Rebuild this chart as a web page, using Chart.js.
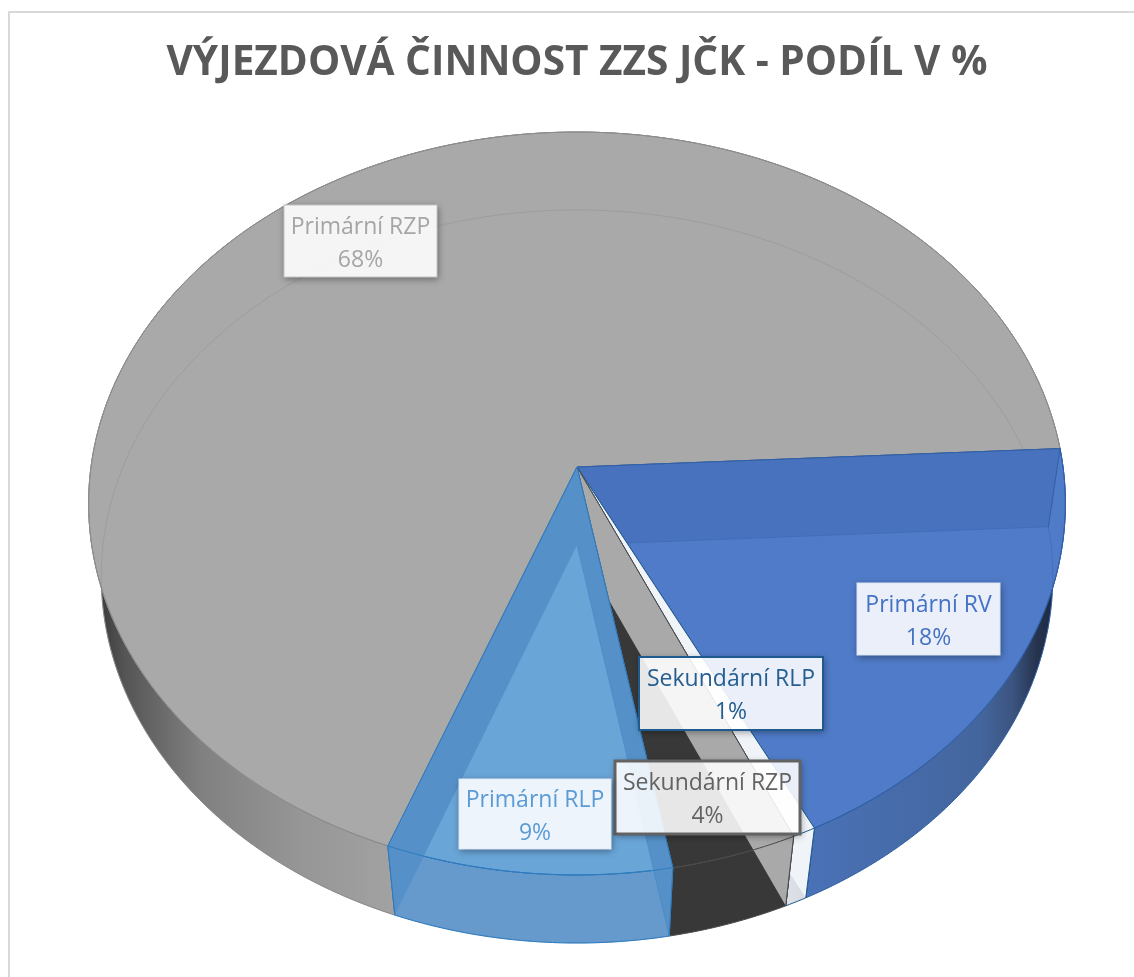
<!DOCTYPE html>
<html lang="cs">
<head>
<meta charset="utf-8">
<title>Výjezdová činnost ZZS JČK</title>
<script src="https://cdn.jsdelivr.net/npm/chart.js@4"></script>
<style>
    html, body { margin: 0; background: #fff; overflow: hidden; }
    #frame { position: absolute; left: 8px; top: 11px; right: 0; bottom: 0; border-left: 2px solid #d9d9d9; border-top: 2px solid #d9d9d9; }
    #pie { position: absolute; left: 0; top: 0; }
</style>
</head>
<body>
<div id="frame"></div>
<canvas id="pie" width="1134" height="977"></canvas>
<script>
// Data
const categories = ["Primární RZP", "Primární RV", "Sekundární RLP", "Sekundární RZP", "Primární RLP"];
const shares = [68.45, 18.45, 0.7, 3.8, 8.6];
const chartTitle = "VÝJEZDOVÁ ČINNOST ZZS JČK - PODÍL V %";
const firstSliceAngle = 200.7;

// Perspective of the two disks of the 3D pie
const topDisk = { cx: 577, cy: 467, a: 322, c: -0.0982, r: 486 };
const bottomDisk = { cx: 577, cy: 545, a: 317, c: -0.0859, r: 474 };

// Slice look, same order as categories
const faceColors = ["#a9a9a9", "#507bc8", "#e9edf4", "#383838", "#6aa5d8"];
const edgeColors = ["#8c8c8c", "#2f5fa5", "#1f5a8f", "#4a4a4a", "#2e7abd"];
const startWallColors = ["rgba(0,0,0,0)", "#4872bd", "#f0f3f8", "#a9a9a9", "#5591c8"];
const endWallColors = ["rgba(0,0,0,0)", "rgba(0,0,0,0)", "rgba(0,0,0,0)", "rgba(0,0,0,0)", "#5591c8"];
const wallStops = [
    [[88, "#303030"], [125, "#555555"], [200, "#808080"], [300, "#969696"], [395, "#a2a2a2"]],
    [[800, "#4a72b8"], [980, "#44669e"], [1013, "#3c5480"], [1036, "#26344f"], [1062, "#1a2438"]],
    [[780, "#dfe2e8"], [815, "#d5d9e0"]],
    [[660, "#383838"], [800, "#383838"]],
    [[380, "#6699cc"], [680, "#6699cc"]]
];

// Label boxes: left, top, right, bottom
const labelBoxes = [
    [284, 205, 437, 277],
    [857, 583, 1000, 655],
    [639, 657, 823, 730],
    [615, 761, 800, 834],
    [459, 779, 611, 849]
];
const labelColors = ["#a5a5a5", "#4472c4", "#255e91", "#636363", "#5b9bd5"];
const labelBorders = ["#c4c4c4", "#dce4f4", "#1f5a8f", "#636363", "#dfeaf6"];
const labelBorderWidths = [1, 1, 2, 3, 1];

function project(disk, angle) {
    const u = Math.cos(angle), v = Math.sin(angle);
    const w = 1 + disk.c * v;
    return [disk.cx + disk.r * u / w, (disk.a * v + disk.cy) / w];
}

function arcPoints(disk, from, to) {
    const steps = Math.max(2, Math.ceil(Math.abs(to - from) / 0.01));
    const pts = [];
    for (let i = 0; i <= steps; i++) pts.push(project(disk, from + (to - from) * i / steps));
    return pts;
}

function tracePath(ctx, pts, close) {
    ctx.beginPath();
    pts.forEach((p, i) => i ? ctx.lineTo(p[0], p[1]) : ctx.moveTo(p[0], p[1]));
    if (close) ctx.closePath();
}

function drawPoly(ctx, pts, fill, stroke) {
    tracePath(ctx, pts, true);
    ctx.fillStyle = fill;
    ctx.fill();
    if (stroke) {
        ctx.strokeStyle = stroke;
        ctx.stroke();
    }
}

function radialWall(angle) {
    return [[topDisk.cx, topDisk.cy], project(topDisk, angle), project(bottomDisk, angle), [bottomDisk.cx, bottomDisk.cy]];
}

// Draws the arcs Chart.js laid out, as extruded slices in perspective
const pie3d = {
    id: "pie3d",
    beforeDatasetDraw(chart, args) {
        const ctx = chart.ctx;
        ctx.save();
        ctx.lineWidth = 1;
        ctx.lineJoin = "round";
        args.meta.data.forEach((arc, i) => {
            const from = arc.startAngle, to = arc.endAngle;
            const topRim = arcPoints(topDisk, from, to);
            const bottomRim = arcPoints(bottomDisk, from, to);
            const gap = [[topDisk.cx, topDisk.cy]];

            // outer wall
            const stops = wallStops[i];
            const x0 = stops[0][0], x1 = stops[stops.length - 1][0];
            const grad = ctx.createLinearGradient(x0, 0, x1, 0);
            stops.forEach(s => grad.addColorStop((s[0] - x0) / (x1 - x0), s[1]));
            drawPoly(ctx, topRim.concat(bottomRim.slice().reverse()), grad, edgeColors[i]);

            // top face
            drawPoly(ctx, gap.concat(topRim), faceColors[i], edgeColors[i]);

            // radial walls seen through the slice
            drawPoly(ctx, radialWall(from), startWallColors[i]);
            drawPoly(ctx, radialWall(to), endWallColors[i]);

            // edges again, over the walls
            ctx.strokeStyle = edgeColors[i];
            tracePath(ctx, radialWall(from).slice(1, 3));
            ctx.stroke();
            tracePath(ctx, radialWall(to).slice(1, 3));
            ctx.stroke();
            tracePath(ctx, gap.concat(topRim), true);
            ctx.stroke();
            if (i === 0) {
                tracePath(ctx, bottomRim);
                ctx.strokeStyle = "rgba(130,130,130,0.3)";
                ctx.stroke();
            } else if (i === 1 || i === 4) {
                tracePath(ctx, [[bottomDisk.cx, bottomDisk.cy]].concat(bottomRim.slice(0, i === 1 ? 30 : bottomRim.length)));
                ctx.strokeStyle = edgeColors[i];
                ctx.globalAlpha = 0.35;
                ctx.stroke();
                ctx.globalAlpha = 1;
            }
        });
        ctx.restore();
        return false;
    },
    afterDatasetsDraw(chart) {
        const ctx = chart.ctx;
        const values = chart.data.datasets[0].data;
        ctx.save();
        ctx.font = '23px "Open Sans"';
        ctx.textAlign = "center";
        ctx.textBaseline = "middle";
        chart.data.labels.forEach((name, i) => {
            const [l, t, r, b] = labelBoxes[i];
            // shadow only outside the box, so the see-through fill stays light
            ctx.save();
            ctx.beginPath();
            ctx.rect(0, 0, chart.width, chart.height);
            ctx.rect(l, t, r - l, b - t);
            ctx.clip("evenodd");
            ctx.shadowColor = "rgba(0,0,0,0.4)";
            ctx.shadowBlur = 7;
            ctx.shadowOffsetX = 1;
            ctx.shadowOffsetY = 2;
            ctx.fillStyle = "#000";
            ctx.fillRect(l, t, r - l, b - t);
            ctx.restore();
            ctx.fillStyle = "rgba(255,255,255,0.88)";
            ctx.fillRect(l, t, r - l, b - t);
            ctx.strokeStyle = labelBorders[i];
            ctx.lineWidth = labelBorderWidths[i];
            ctx.strokeRect(l, t, r - l, b - t);
            ctx.fillStyle = labelColors[i];
            const mid = (l + r) / 2, midY = (t + b) / 2;
            ctx.fillText(name, mid, midY - 14);
            ctx.fillText(Math.round(values[i]) + "%", mid, midY + 19);
        });
        ctx.restore();
    }
};

new Chart(document.getElementById("pie"), {
    type: "pie",
    data: {
        labels: categories,
        datasets: [{ data: shares, backgroundColor: faceColors }]
    },
    options: {
        responsive: false,
        animation: false,
        rotation: firstSliceAngle,
        layout: { padding: { left: 20 } },
        plugins: {
            legend: { display: false },
            tooltip: { enabled: false },
            title: {
                display: true,
                text: chartTitle,
                color: "#595959",
                font: { family: '"Open Sans"', size: 40.6, weight: "bold" },
                padding: { top: 39, bottom: 10 }
            }
        }
    },
    plugins: [pie3d]
});
</script>
</body>
</html>
